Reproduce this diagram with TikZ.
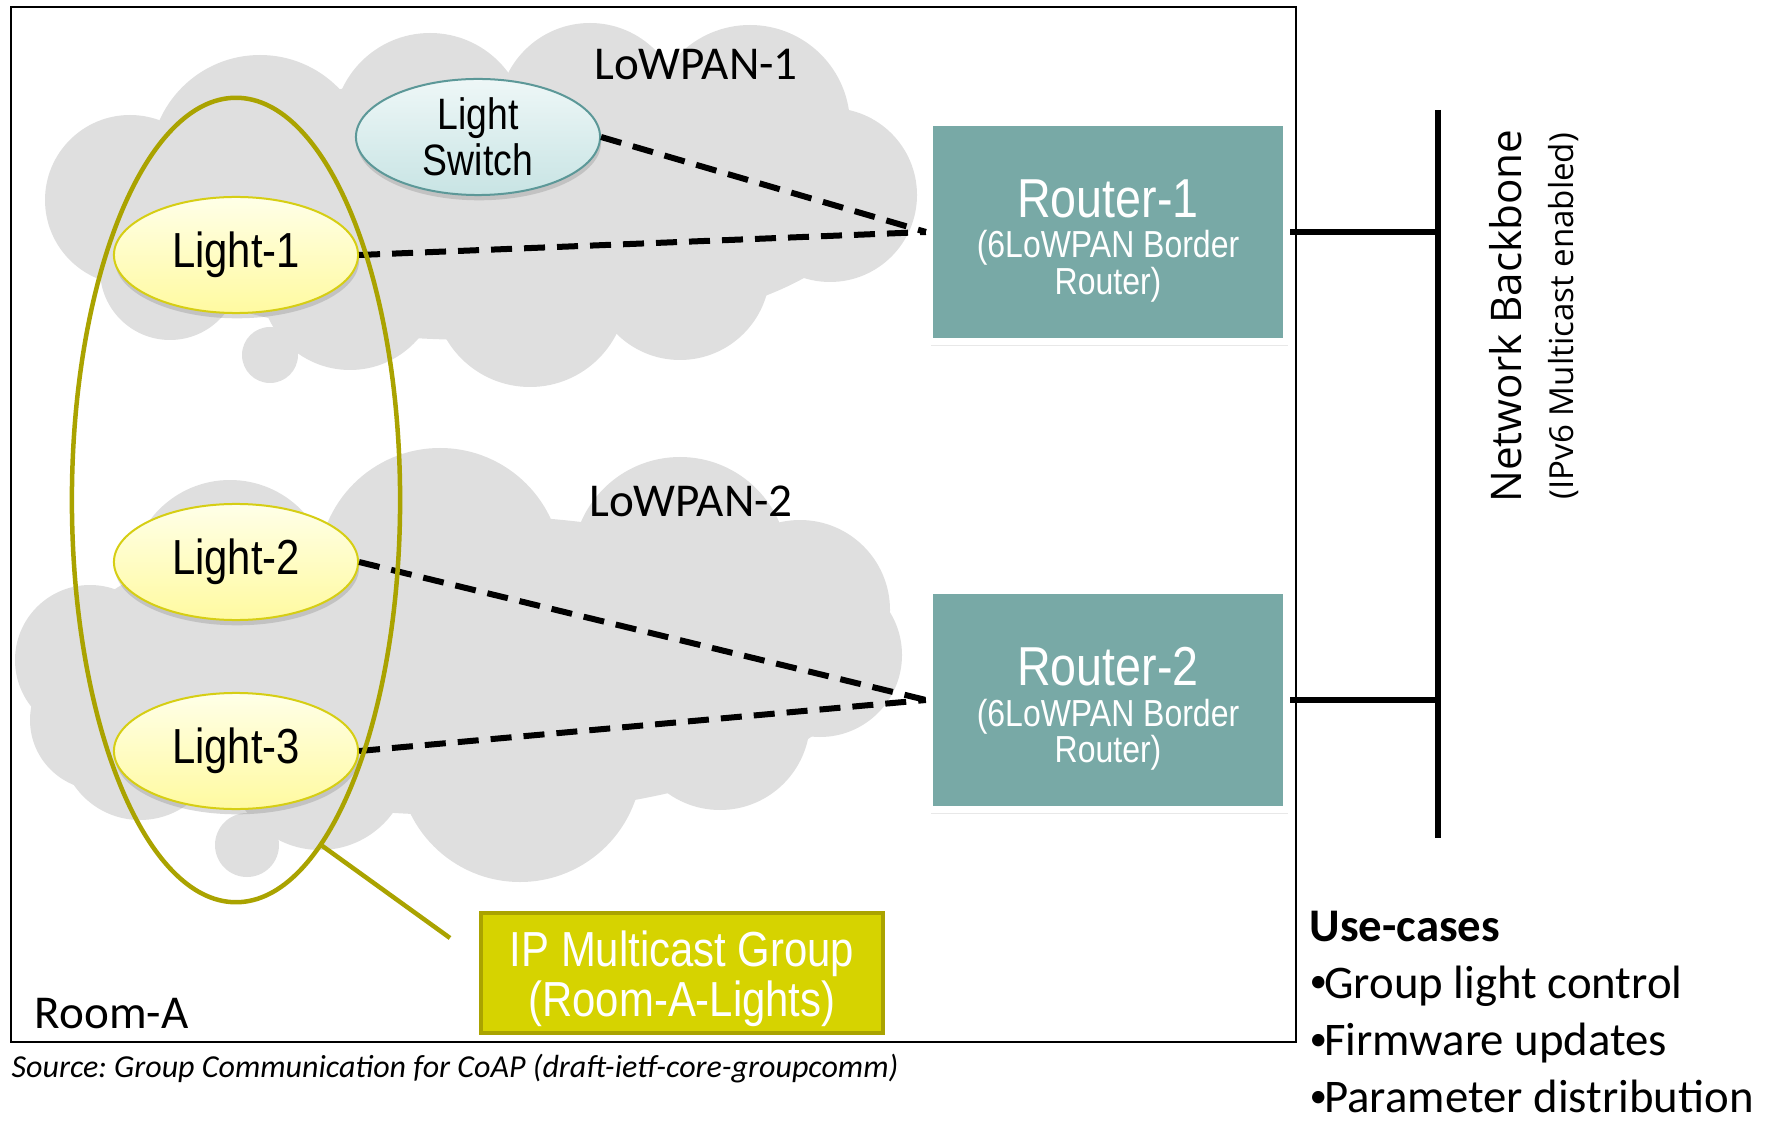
\documentclass[tikz,border=0pt]{standalone}
\usepackage{fontspec}
\setmainfont{Carlito}
\newfontfamily\narrowsans[FakeStretch=0.85]{Liberation Sans}
\newfontfamily\widesans{Open Sans}
\usetikzlibrary{shapes.geometric,shadows}
\definecolor{cloudgray}{RGB}{223,223,223}
\definecolor{routerteal}{RGB}{120,169,166}
\definecolor{groupolive}{RGB}{170,163,0}
\definecolor{groupfill}{RGB}{214,211,0}
\definecolor{lampborder}{RGB}{214,206,20}
\definecolor{lamptop}{RGB}{255,255,232}
\definecolor{lampbot}{RGB}{255,250,160}
\definecolor{switchtop}{RGB}{238,247,247}
\definecolor{switchbot}{RGB}{200,228,228}
\definecolor{switchborder}{RGB}{92,152,152}
\newcommand{\usebullet}{\raisebox{0.12em}{\scalebox{0.75}{•}}\kern-0.06em}

\begin{document}
\begin{tikzpicture}[x=0.01cm,y=-0.01cm,
  lamp/.style={ellipse, draw=lampborder, line width=0.02cm, top color=lamptop, bottom color=lampbot,
    minimum width=2.44cm, minimum height=1.16cm, inner sep=0pt,
    font=\narrowsans\fontsize{14}{16}\selectfont,
    drop shadow={shadow xshift=0.3pt, shadow yshift=-1.5pt, opacity=0.3}},
  switchnode/.style={lamp, draw=switchborder, top color=switchtop, bottom color=switchbot,
    align=center, font=\narrowsans\fontsize{12.5}{13.2}\selectfont},
  router/.style={rectangle, fill=routerteal, draw=white, line width=0.07cm, text=white,
    minimum width=3.57cm, minimum height=2.18cm, align=center,
    font=\narrowsans\fontsize{10.7}{10.5}\selectfont,
    drop shadow={shadow xshift=0.4pt, shadow yshift=-1.3pt, opacity=0.18}},
  link/.style={line width=0.06cm, dash pattern=on 0.21cm off 0.12cm},
  backbone/.style={line width=0.06cm},
  groupline/.style={draw=groupolive, line width=0.045cm},
  netlabel/.style={font=\fontsize{13.4}{16}\selectfont}]
\useasboundingbox (0,0) rectangle (1780,1122);

% room
\draw[line width=0.02cm] (11,7) rectangle (1296,1042);

% LoWPAN-1 cloud
\fill[cloudgray] (480,210) ellipse [x radius=380, y radius=130];
\foreach \cx/\cy/\r in {130/200/85, 260/165/110, 430/130/97, 590/115/92, 750/125/100, 830/195/87,
    680/270/90, 530/290/97, 350/280/90, 270/355/28, 170/270/70}
  \fill[cloudgray] (\cx,\cy) circle [radius=\r];

% LoWPAN-2 cloud
\fill[cloudgray] (460,665) ellipse [x radius=400, y radius=150];
\foreach \cx/\cy/\r in {90/660/75, 230/580/100, 440/570/122, 680/565/108, 800/610/90, 820/655/82,
    720/720/90, 520/760/122, 320/760/90, 247/845/32, 140/740/80, 100/720/70}
  \fill[cloudgray] (\cx,\cy) circle [radius=\r];

\node[netlabel] (lowpan1) at (696,65) {LoWPAN-1};
\node[netlabel] (lowpan2) at (691,501) {LoWPAN-2};

% devices
\node[switchnode] (switch) at (478,137) {Light\\Switch};
\node[lamp] (light1) at (236,255) {Light-1};
\node[lamp] (light2) at (236,562) {Light-2};
\node[lamp] (light3) at (236,751) {Light-3};

\node[router] (router1) at (1108,232) {{\fontsize{15.6}{19}\selectfont\rule{0pt}{16pt}Router-1}\\[1pt](6LoWPAN Border\\Router)};
\node[router] (router2) at (1108,700) {{\fontsize{15.6}{19}\selectfont\rule{0pt}{16pt}Router-2}\\[1pt](6LoWPAN Border\\Router)};

\draw[link] (switch.east) -- (router1.west);
\draw[link] (light1.east) -- (router1.west);
\draw[link] (light2.east) -- (router2.west);
\draw[link] (light3.east) -- (router2.west);

% backbone
\coordinate (bbtop) at (1438,110);
\coordinate (bbbot) at (1438,838);
\draw[backbone] (bbtop) -- (bbbot);
\draw[backbone] (router1.east) -- (router1.east -| bbtop);
\draw[backbone] (router2.east) -- (router2.east -| bbtop);
\node[rotate=90, align=center, font=\widesans\fontsize{9.4}{15}\selectfont] (backbonelabel) at (1534,316)
  {{\fontsize{12}{15}\selectfont Network Backbone}\\(IPv6 Multicast enabled)};

% multicast group
\node[ellipse, groupline, minimum width=3.28cm, minimum height=8.04cm, inner sep=0pt] (group) at (236,500) {};
\coordinate (tail) at (450,938);
\draw[groupline] (group.-76) -- (tail);
\node[rectangle, fill=groupfill, draw=groupolive, line width=0.04cm, minimum width=4.01cm, minimum height=1.19cm,
  inner ysep=0pt, text=white, align=center, font=\narrowsans\fontsize{14}{14.2}\selectfont] (mcast) at (682,973)
  {\rule{0pt}{13.5pt}IP Multicast Group\\(Room-A-Lights)};

\node[netlabel, anchor=west, inner sep=0pt] (roomlabel) at (34,1014) {Room-A};
\node[anchor=west, inner sep=0pt, font=\itshape\fontsize{9.1}{10}\selectfont] (source) at (11,1069)
  {\frenchspacing Source: Group Communication for CoAP (draft-ietf-core-groupcomm)};
\node[anchor=west, inner sep=0pt, align=left, font=\fontsize{13.3}{16.3}\selectfont] (usecases) at (1309,1012)
  {\textbf{Use-cases}\\ \usebullet Group light control\\ \usebullet Firmware updates\\ \usebullet Parameter distribution};
\end{tikzpicture}
\end{document}
